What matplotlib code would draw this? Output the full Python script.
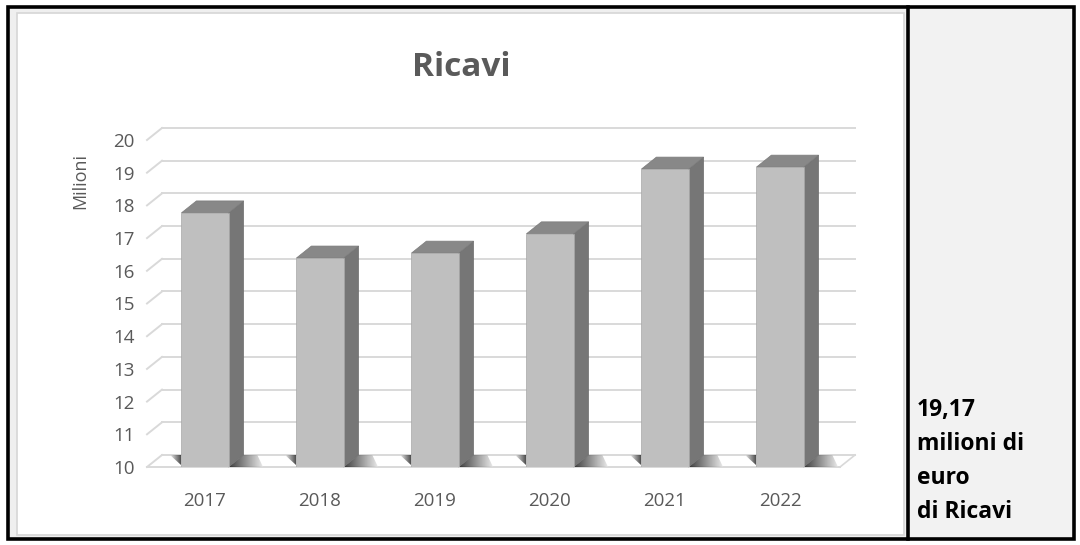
import numpy as np
import matplotlib
matplotlib.use("Agg")
import matplotlib.pyplot as plt
from matplotlib.patches import Rectangle, Polygon

# dati
anni = ["2017", "2018", "2019", "2020", "2021", "2022"]
ricavi = [17.77, 16.39, 16.54, 17.13, 19.11, 19.17]
tick_y = list(range(10, 21))
nota = "19,17\nmilioni di\neuro\ndi Ricavi"

W, H = 1080, 545
fig = plt.figure(figsize=(W / 100, H / 100), dpi=100)
fig.patch.set_facecolor("white")

def px_rect(x0, y0, x1, y1, **kw):
    # rettangolo in pixel (origine in alto a sinistra)
    r = Rectangle((x0 / W, 1 - y1 / H), (x1 - x0) / W, (y1 - y0) / H,
                  transform=fig.transFigure, **kw)
    fig.add_artist(r)
    return r

# cornice tabella e pannelli
px_rect(8, 7, 908, 539, facecolor="#efefef", edgecolor="none", zorder=-3)
px_rect(17, 13, 904, 535, facecolor="white", edgecolor="#d6d6d6", lw=1.2, zorder=-2)
px_rect(908, 7, 1074, 539, facecolor="#f2f2f2", edgecolor="none", zorder=-3)
px_rect(8, 7, 1074, 539, facecolor="none", edgecolor="black", lw=2.6, zorder=10)
fig.add_artist(plt.Line2D([908 / W, 908 / W], [1 - 7 / H, 1 - 539 / H],
                          transform=fig.transFigure, color="black", lw=2.6, zorder=10))

# assi: piano frontale del grafico 3D
ax = fig.add_axes([147 / W, (H - 467) / H, (840 - 147) / W, (467 - 140) / H])
ax.set_facecolor("none")
x0, x1 = -0.504, 5.522
ax.set_xlim(x0, x1)
ax.set_ylim(10, 20)
dx = 15 / 115      # profondita in x (dati)
dy = 12 / 32.7     # profondita in y (dati)
grid_c = "#d9d9d9"

# griglia sul fondo + parete sinistra
for t in tick_y:
    ax.plot([x0 + dx, x1 + dx], [t + dy, t + dy], color=grid_c, lw=1.4, clip_on=False, zorder=1)
    ax.plot([x0, x0 + dx], [t, t + dy], color=grid_c, lw=1.4, clip_on=False, zorder=1)

# pavimento
ax.plot([x0, x1], [10, 10], color=grid_c, lw=1.4, clip_on=False, zorder=1)
ax.plot([x1, x1 + dx], [10, 10 + dy], color=grid_c, lw=1.2, clip_on=False, zorder=1)

w = 0.41
grad = np.linspace(0, 1, 64).reshape(1, -1)
for i, v in enumerate(ricavi):
    xl, xr = i - w / 2, i + w / 2
    # ombra sul pavimento a destra della barra
    sh = Polygon([(xr, 10), (xr + dx, 10 + dy), (xr + dx + 0.12, 10 + dy), (xr + 0.30, 10)],
                 closed=True, facecolor="none", edgecolor="none", transform=ax.transData)
    ax.add_patch(sh)
    im = ax.imshow(grad, cmap="gray", vmin=0, vmax=1.1, extent=(xr, xr + 0.30, 10, 10 + dy),
                   aspect="auto", zorder=2, interpolation="bilinear", alpha=0.75)
    im.set_clip_path(sh)
    # ombra a sinistra
    sh2 = Polygon([(xl, 10 + dy * 0.15), (xl, 10 + dy), (xl - 0.10, 10 + dy)],
                  closed=True, facecolor="none", edgecolor="none", transform=ax.transData)
    ax.add_patch(sh2)
    im2 = ax.imshow(grad[:, ::-1], cmap="gray", vmin=0, vmax=1.1,
                    extent=(xl - 0.10, xl, 10, 10 + dy),
                    aspect="auto", zorder=2, interpolation="bilinear", alpha=0.75)
    im2.set_clip_path(sh2)

    # lato e tetto
    ax.add_patch(Polygon([(xr, 10), (xr + dx, 10 + dy), (xr + dx, v + dy), (xr, v)],
                         closed=True, facecolor="#767676", edgecolor="#6c6c6c", lw=0.5,
                         zorder=3, clip_on=False))
    ax.add_patch(Polygon([(xl, v), (xl + dx, v + dy), (xr + dx, v + dy), (xr, v)],
                         closed=True, facecolor="#888888", edgecolor="#7c7c7c", lw=0.5,
                         zorder=3, clip_on=False))

ax.bar(range(len(anni)), [v - 10 for v in ricavi], bottom=10, width=w,
       color="#bfbfbf", edgecolor="#a8a8a8", linewidth=0.5, zorder=4)

ax.set_xlim(x0, x1)
ax.set_ylim(10, 20)
for s in ax.spines.values():
    s.set_visible(False)
ax.set_yticks(tick_y)
ax.set_yticklabels([str(t) for t in tick_y])
ax.set_xticks(range(len(anni)))
ax.set_xticklabels(anni)
ax.tick_params(axis="y", length=0, pad=9, labelsize=13.5, labelcolor="#595959")
ax.tick_params(axis="x", length=0, pad=18, labelsize=13.5, labelcolor="#595959")
for lab in ax.get_xticklabels() + ax.get_yticklabels():
    lab.set_fontfamily("Open Sans")

ax.set_ylabel("Milioni", fontsize=13, color="#595959", fontfamily="Open Sans")
ax.yaxis.set_label_coords(-0.083, 0.875)

fig.text(461 / W, 1 - 67 / H, "Ricavi", ha="center", va="center", fontsize=24,
         fontweight="bold", color="#5a5a5a", fontfamily="Open Sans")

fig.text(917 / W, 1 - 398 / H, nota, ha="left", va="top", fontsize=16.5,
         fontweight="bold", color="black", fontfamily="Open Sans", linespacing=1.55)

fig.savefig("out.png", dpi=100)
